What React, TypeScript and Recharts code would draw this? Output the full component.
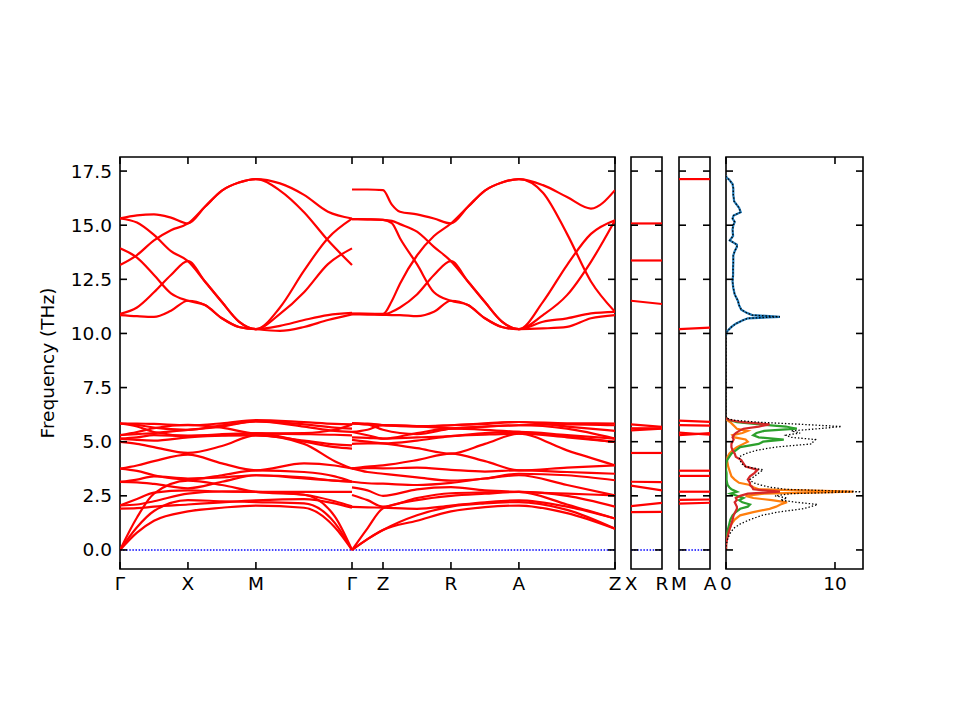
import React from "react";
import { LineChart, Line, XAxis, YAxis, ReferenceLine, ReferenceArea } from "recharts";

// high-symmetry path, reciprocal distance
const pathTicks = [0, 0.5, 1.0, 1.707, 1.935, 2.435, 2.935, 3.642];
const pathLabels = ["Γ", "X", "M", "Γ", "Z", "R", "A", "Z"];
const freqTicks = [0, 2.5, 5, 7.5, 10, 12.5, 15, 17.5];
const dosTicks = [0, 10];
const FREQ_DOMAIN: [number, number] = [-0.88, 18.15];
const PATH_END = 3.642;
const SIDE_END = 0.228;
const DOS_MAX = 12.57;

// k grids for the stretches Γ-X-M-Γ and Γ-Z-R-A-Z
const kAUp = [0, 0.125, 0.25, 0.375, 0.5, 0.625, 0.75, 0.875, 1.0, 1.177, 1.354, 1.53, 1.707];
const kBUp = [1.707, 1.821, 1.935, 2.0, 2.06, 2.185, 2.31, 2.435, 2.56, 2.685, 2.81, 2.935, 3.112, 3.289, 3.465, 3.642];
const kALow = [0, 0.125, 0.25, 0.5, 0.75, 1.0, 1.354, 1.58, 1.707];
const kBLow = [1.707, 1.821, 1.935, 2.185, 2.435, 2.685, 2.935, 3.289, 3.642];
const kSide = [0, SIDE_END];

// optical bands above 10 THz (THz)
const upperA = [
  [15.31, 15.45, 15.5, 15.35, 15.08, 15.85, 16.6, 16.97, 17.13, 16.93, 16.4, 15.62, 15.31],
  [15.31, 15.12, 14.55, 13.8, 13.34, 12.4, 11.45, 10.55, 10.2, 11.2, 12.9, 14.4, 15.3],
  [13.93, 13.5, 12.7, 11.85, 11.51, 11.31, 10.7, 10.3, 10.2, 10.9, 11.9, 13.2, 13.93],
  [13.16, 13.62, 14.3, 14.77, 15.08, 15.85, 16.6, 16.97, 17.13, 16.6, 15.6, 14.3, 13.16],
  [10.9, 11.2, 11.9, 12.7, 13.34, 12.4, 11.45, 10.55, 10.2, 10.35, 10.62, 10.85, 10.95],
  [10.85, 10.8, 10.77, 11.05, 11.51, 11.31, 10.7, 10.3, 10.2, 10.12, 10.3, 10.62, 10.88],
];
const upperB = [
  [16.65, 16.65, 16.62, 15.95, 15.62, 15.5, 15.31, 15.08, 15.85, 16.6, 16.97, 17.13, 16.85, 16.3, 15.77, 16.62],
  [15.28, 15.27, 15.25, 15.2, 15.05, 14.7, 14.0, 13.34, 12.4, 11.45, 10.55, 10.2, 10.85, 11.77, 13.31, 15.23],
  [15.28, 15.27, 15.25, 15.1, 14.4, 13.2, 11.9, 11.51, 11.31, 10.7, 10.3, 10.2, 11.46, 13.16, 14.6, 15.23],
  [10.92, 10.91, 10.9, 11.5, 12.3, 13.6, 14.5, 15.08, 15.85, 16.6, 16.97, 17.13, 16.5, 14.6, 12.4, 11.0],
  [10.9, 10.9, 10.88, 11.0, 11.2, 11.8, 12.7, 13.34, 12.4, 11.45, 10.55, 10.2, 10.54, 10.7, 10.93, 11.0],
  [10.88, 10.87, 10.86, 10.85, 10.85, 10.8, 11.0, 11.51, 11.31, 10.7, 10.3, 10.2, 10.23, 10.3, 10.7, 10.85],
];

// acoustic + low optical bands (THz)
const lowerA = [
  [0, 0.8, 1.35, 1.78, 1.95, 2.05, 1.95, 1.05, 0],
  [0, 1.05, 1.8, 2.3, 2.25, 2.21, 2.15, 1.25, 0],
  [0, 1.5, 2.6, 3.2, 3.0, 2.68, 2.55, 1.55, 0],
  [1.91, 1.93, 2.0, 2.1, 2.2, 2.29, 2.35, 2.15, 1.95],
  [2.06, 2.1, 2.25, 2.6, 2.7, 2.68, 2.68, 2.68, 2.68],
  [2.06, 2.35, 2.65, 2.75, 2.7, 2.68, 2.55, 2.25, 2.02],
  [3.14, 3.12, 3.05, 2.85, 3.15, 3.45, 3.35, 3.2, 3.15],
  [3.14, 3.25, 3.4, 3.3, 3.35, 3.45, 3.3, 3.2, 3.15],
  [3.76, 3.65, 3.45, 3.25, 3.45, 3.68, 3.6, 3.4, 3.15],
  [3.76, 3.9, 4.1, 4.4, 4.0, 3.68, 4.0, 3.9, 3.76],
  [4.99, 4.9, 4.75, 4.48, 4.8, 5.29, 4.9, 4.1, 3.76],
  [5.14, 5.08, 5.05, 5.2, 5.28, 5.29, 5.05, 4.88, 4.83],
  [5.14, 5.2, 5.3, 5.25, 5.35, 5.38, 5.0, 4.75, 4.68],
  [5.3, 5.45, 5.62, 5.78, 5.65, 5.38, 5.35, 5.32, 5.29],
  [5.3, 5.35, 5.4, 5.55, 5.7, 5.94, 5.7, 5.5, 5.45],
  [5.84, 5.78, 5.65, 5.55, 5.75, 5.94, 5.8, 5.65, 5.6],
  [5.84, 5.84, 5.82, 5.76, 5.85, 6.0, 5.9, 5.82, 5.8],
  [5.84, 5.7, 5.45, 5.28, 5.3, 5.38, 5.4, 5.55, 5.8],
];
const lowerB = [
  [0, 0.5, 0.92, 1.35, 1.78, 1.98, 2.05, 1.7, 0.98],
  [0, 0.5, 0.92, 1.6, 2.0, 2.15, 2.21, 1.85, 0.98],
  [0, 1.0, 1.92, 2.3, 2.5, 2.6, 2.68, 2.1, 1.45],
  [1.99, 1.97, 1.95, 1.9, 2.05, 2.2, 2.29, 2.0, 1.45],
  [2.54, 2.3, 2.0, 2.4, 2.62, 2.66, 2.68, 2.5, 2.0],
  [2.89, 2.75, 2.5, 2.8, 2.9, 2.75, 2.68, 2.6, 2.52],
  [3.15, 3.08, 3.06, 3.0, 3.1, 3.3, 3.45, 3.0, 2.52],
  [3.77, 3.6, 3.52, 3.35, 3.2, 3.3, 3.52, 3.45, 3.22],
  [3.77, 3.78, 3.77, 3.8, 3.7, 3.62, 3.68, 3.6, 3.52],
  [3.77, 3.85, 3.91, 4.15, 4.45, 4.1, 3.68, 3.8, 3.91],
  [5.08, 5.0, 4.92, 4.7, 4.45, 4.9, 5.37, 4.6, 3.91],
  [4.9, 4.92, 4.92, 5.05, 5.26, 5.33, 5.37, 5.2, 4.99],
  [5.2, 5.18, 5.14, 5.2, 5.26, 5.4, 5.45, 5.3, 5.14],
  [5.45, 5.3, 5.14, 5.4, 5.6, 5.55, 5.45, 5.25, 4.99],
  [5.45, 5.55, 5.77, 5.72, 5.62, 5.7, 5.76, 5.6, 5.14],
  [5.85, 5.8, 5.77, 5.72, 5.76, 5.82, 5.91, 5.7, 5.5],
  [5.85, 5.84, 5.76, 5.7, 5.76, 5.85, 5.91, 5.85, 5.84],
  [5.85, 5.8, 5.55, 5.35, 5.6, 5.7, 5.76, 5.8, 5.76],
];

// X-R and M-A side panels (start, end)
const xrBands = [
  [15.08, 15.08], [13.37, 13.37], [11.51, 11.36], [5.8, 5.68], [5.52, 5.6], [5.62, 5.62],
  [4.48, 4.48], [3.15, 3.13], [2.97, 2.75], [2.02, 2.17], [1.75, 1.76],
];
const maBands = [
  [17.13, 17.13], [10.2, 10.27], [5.97, 5.92], [5.77, 5.74], [5.42, 5.32], [5.3, 5.4],
  [3.66, 3.66], [3.42, 3.42], [2.69, 2.69], [2.31, 2.33], [2.14, 2.18],
];

// phonon DOS
const lowFreq = [0, 0.3, 0.5, 0.75, 1.0, 1.2, 1.4, 1.6, 1.75, 1.9, 2.0, 2.1, 2.2, 2.3, 2.4, 2.5, 2.6, 2.69, 2.8, 2.9, 3.0, 3.1, 3.25, 3.4, 3.55, 3.7, 3.85, 4.0, 4.15, 4.3, 4.45, 4.6, 4.75, 4.9, 5.0, 5.1, 5.2, 5.3, 5.4, 5.5, 5.6, 5.7, 5.8, 5.9, 6.0, 6.1];
const totalLow = [0, 0.05, 0.15, 0.35, 0.7, 1.3, 2.2, 3.3, 4.8, 7.0, 7.8, 8.4, 6.5, 5.0, 5.6, 4.5, 6.0, 12.4, 5.5, 4.0, 3.2, 2.5, 2.2, 2.6, 3.0, 3.4, 1.8, 1.4, 1.3, 1.2, 1.8, 2.8, 4.5, 7.9, 8.0, 8.2, 6.0, 5.5, 6.8, 6.0, 8.5, 10.6, 7.0, 3.0, 0.6, 0];
const orangeLow = [0, 0, 0.05, 0.2, 0.35, 0.5, 0.8, 1.3, 2.5, 4.0, 4.6, 5.0, 5.6, 4.2, 2.5, 1.8, 3.5, 11.7, 3.0, 2.5, 2.2, 1.2, 0.8, 0.5, 0.4, 0.3, 0.2, 0.15, 0.1, 0.15, 0.3, 0.6, 1.0, 1.6, 2.0, 1.8, 0.8, 0.6, 1.5, 2.0, 1.0, 0.8, 0.6, 0.4, 0.1, 0];
const greenLow = [0, 0, 0.05, 0.1, 0.2, 0.3, 0.4, 0.6, 0.9, 1.3, 2.0, 2.2, 1.5, 1.2, 1.6, 1.0, 0.4, 1.0, 0.5, 0.3, 0.15, 0.1, 0.05, 0.05, 0.05, 0, 0, 0.02, 0.1, 0.3, 0.5, 0.9, 1.3, 3.0, 3.4, 5.3, 3.0, 2.5, 2.8, 3.5, 6.5, 5.5, 3.1, 1.0, 0.3, 0];
const redLow = [0, 0.02, 0.1, 0.2, 0.35, 0.5, 0.6, 0.7, 0.85, 1.0, 1.0, 0.9, 0.8, 1.0, 0.9, 1.3, 2.0, 4.95, 2.5, 2.4, 2.2, 2.2, 2.0, 2.2, 2.6, 2.9, 1.8, 1.6, 1.4, 0.9, 0.8, 0.6, 0.5, 0.5, 0.6, 0.7, 0.6, 0.7, 0.9, 1.2, 1.6, 3.0, 4.0, 1.5, 0.3, 0];
const highFreq = [9.9, 10.05, 10.15, 10.3, 10.45, 10.6, 10.7, 10.77, 10.85, 10.95, 11.1, 11.3, 11.5, 11.8, 12.1, 12.4, 12.7, 13.0, 13.3, 13.6, 13.8, 14.0, 14.1, 14.3, 14.5, 14.8, 15.0, 15.15, 15.3, 15.45, 15.6, 15.8, 16.1, 16.4, 16.7, 16.9, 17.1, 17.2, 17.3];
const blueHigh = [0, 0.05, 0.2, 0.5, 0.9, 1.5, 2.0, 4.95, 2.4, 1.9, 1.4, 1.2, 1.1, 0.8, 0.67, 0.6, 0.65, 0.65, 0.67, 0.67, 0.8, 1.0, 1.0, 0.35, 0.65, 0.6, 0.67, 0.8, 0.6, 0.7, 1.35, 1.2, 0.75, 0.67, 0.67, 0.6, 0.3, 0.05, 0];

const FONT = "DejaVu Sans";
const FS = 18.5;
const TICK_LEN = 7;
const MARGIN_TOP = 157;
const MARGIN_BOTTOM = 21;
const PLOT_TOP = 157;
const PLOT_BOTTOM = 569;
const ZERO_LINE = { stroke: "#0000ff", strokeDasharray: "1.5 1.6", strokeWidth: 1.4 };

const toPts = (ks: number[], fs: number[]) => ks.map((k, i) => ({ k, f: fs[i] }));
const toDos = (fs: number[], ds: number[]) => fs.map((f, i) => ({ f, d: ds[i] }));

const bandSeries = [
  ...upperA.map((fs) => toPts(kAUp, fs)),
  ...upperB.map((fs) => toPts(kBUp, fs)),
  ...lowerA.map((fs) => toPts(kALow, fs)),
  ...lowerB.map((fs) => toPts(kBLow, fs)),
];

// inward ticks on both vertical sides, optional label on the left
const yTick = (left: number, right: number, label: boolean) => (props: any) => {
  const { y, payload } = props;
  return (
    <g>
      <line x1={left} x2={left + TICK_LEN} y1={y} y2={y} stroke="#000" strokeWidth={1.6} />
      <line x1={right - TICK_LEN} x2={right} y1={y} y2={y} stroke="#000" strokeWidth={1.6} />
      {label && (
        <text x={left - 8} y={y} textAnchor="end" dominantBaseline="central" fontSize={FS} fontFamily={FONT} fill="#000">
          {Number(payload.value).toFixed(1)}
        </text>
      )}
    </g>
  );
};

// inward ticks on top and bottom, label below
const xTick = (labels: string[] | null, marks: boolean) => (props: any) => {
  const { x, payload, index } = props;
  const text = labels ? labels[index] : String(payload.value);
  return (
    <g>
      {marks && <line x1={x} x2={x} y1={PLOT_BOTTOM - TICK_LEN} y2={PLOT_BOTTOM} stroke="#000" strokeWidth={1.6} />}
      {marks && <line x1={x} x2={x} y1={PLOT_TOP} y2={PLOT_TOP + TICK_LEN} stroke="#000" strokeWidth={1.6} />}
      <text x={x} y={590} textAnchor="middle" fontSize={FS} fontFamily={FONT} fill="#000">
        {text}
      </text>
    </g>
  );
};

function BandPanel() {
  return (
    <LineChart width={640} height={620} margin={{ top: MARGIN_TOP, right: 25, bottom: MARGIN_BOTTOM, left: 60 }}>
      <XAxis type="number" dataKey="k" domain={[0, PATH_END]} ticks={pathTicks} interval={0} allowDataOverflow
        tick={xTick(pathLabels, true)} tickLine={false} axisLine={false} height={30} />
      <YAxis type="number" domain={FREQ_DOMAIN} ticks={freqTicks} interval={0} allowDataOverflow width={60}
        tick={yTick(120, 615, true)} tickLine={false} axisLine={false} />
      <ReferenceArea x1={0} x2={PATH_END} y1={FREQ_DOMAIN[0]} y2={FREQ_DOMAIN[1]} fill="none" stroke="#000" strokeWidth={1.6} />
      <ReferenceLine y={0} {...ZERO_LINE} />
      {bandSeries.map((d, i) => (
        <Line key={i} data={d} dataKey="f" type="monotone" stroke="#ff0000" strokeWidth={2.2}
          dot={false} activeDot={false} isAnimationActive={false} />
      ))}
    </LineChart>
  );
}

function SidePanel({ left, labels, bands }: { left: number; labels: string[]; bands: number[][] }) {
  return (
    <div style={{ position: "absolute", left, top: 0 }}>
      <LineChart width={71} height={620} margin={{ top: MARGIN_TOP, right: 20, bottom: MARGIN_BOTTOM, left: 0 }}>
        <XAxis type="number" dataKey="k" domain={[0, SIDE_END]} ticks={kSide} interval={0} allowDataOverflow
          tick={xTick(labels, false)} tickLine={false} axisLine={false} height={30} />
        <YAxis type="number" domain={FREQ_DOMAIN} ticks={freqTicks} interval={0} allowDataOverflow width={20}
          tick={yTick(20, 51, false)} tickLine={false} axisLine={false} />
        <ReferenceArea x1={0} x2={SIDE_END} y1={FREQ_DOMAIN[0]} y2={FREQ_DOMAIN[1]} fill="none" stroke="#000" strokeWidth={1.6} />
        <ReferenceLine y={0} {...ZERO_LINE} />
        {bands.map((fs, i) => (
          <Line key={i} data={toPts(kSide, fs)} dataKey="f" type="linear" stroke="#ff0000" strokeWidth={2.2}
            dot={false} activeDot={false} isAnimationActive={false} />
        ))}
      </LineChart>
    </div>
  );
}

function DosPanel() {
  const series = [
    { data: toDos(highFreq, blueHigh), color: "#1f77b4", w: 2.2, dash: undefined },
    { data: toDos(lowFreq, orangeLow), color: "#ff7f0e", w: 2.2, dash: undefined },
    { data: toDos(lowFreq, greenLow), color: "#2ca02c", w: 2.2, dash: undefined },
    { data: toDos(lowFreq, redLow), color: "#d62728", w: 2.2, dash: undefined },
    // total DOS coincides with the blue partial above 9 THz
    { data: [...toDos(lowFreq, totalLow), ...toDos(highFreq, blueHigh)], color: "#000", w: 1.3, dash: "1.4 2" },
  ];
  return (
    <div style={{ position: "absolute", left: 706, top: 0 }}>
      <LineChart layout="vertical" width={177} height={620}
        margin={{ top: MARGIN_TOP, right: 20, bottom: MARGIN_BOTTOM, left: 0 }}>
        <XAxis type="number" domain={[0, DOS_MAX]} ticks={dosTicks} interval={0} allowDataOverflow
          tick={xTick(null, true)} tickLine={false} axisLine={false} height={30} />
        <YAxis type="number" dataKey="f" domain={FREQ_DOMAIN} ticks={freqTicks} interval={0} allowDataOverflow
          reversed width={20} tick={yTick(20, 157, false)} tickLine={false} axisLine={false} />
        <ReferenceArea x1={0} x2={DOS_MAX} y1={FREQ_DOMAIN[0]} y2={FREQ_DOMAIN[1]} fill="none" stroke="#000" strokeWidth={1.6} />
        {series.map((s, i) => (
          <Line key={i} data={s.data} dataKey="d" type="linear" stroke={s.color} strokeWidth={s.w}
            strokeDasharray={s.dash} dot={false} activeDot={false} isAnimationActive={false} />
        ))}
      </LineChart>
    </div>
  );
}

export default function App() {
  return (
    <div style={{ position: "absolute", left: 0, top: 0, width: 960, height: 720, background: "#fff", fontFamily: FONT }}>
      <div style={{ position: "absolute", left: 0, top: 0 }}>
        <BandPanel />
      </div>
      <SidePanel left={611} labels={["X", "R"]} bands={xrBands} />
      <SidePanel left={659} labels={["M", "A"]} bands={maBands} />
      <DosPanel />
      <svg width={60} height={720} style={{ position: "absolute", left: 0, top: 0 }}>
        <text x={47} y={363} transform="rotate(-90 47 363)" textAnchor="middle" dominantBaseline="central"
          fontSize={FS} fontFamily={FONT} fill="#000">
          Frequency (THz)
        </text>
      </svg>
    </div>
  );
}
